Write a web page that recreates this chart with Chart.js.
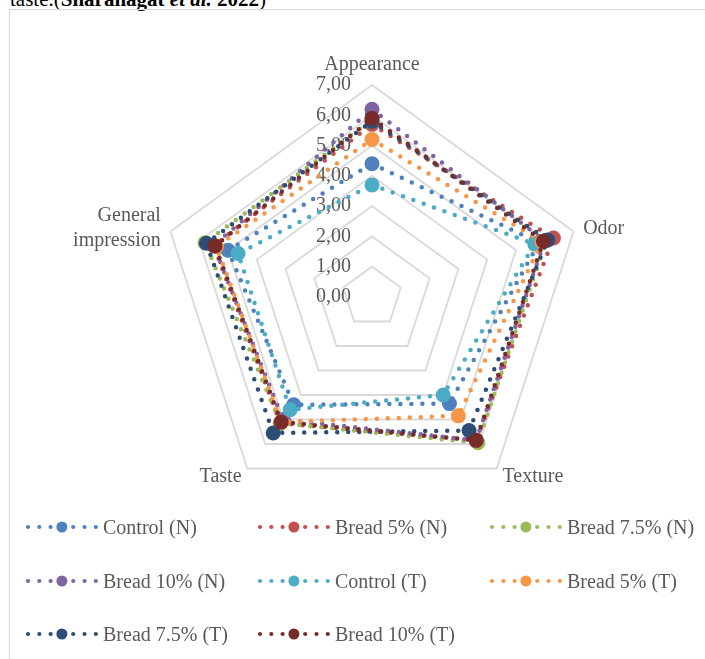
<!DOCTYPE html>
<html lang="en">
<head>
  <meta charset="UTF-8">
  <title>Sensory evaluation radar</title>
  <script src="https://cdn.jsdelivr.net/npm/chart.js"></script>
  <style>
    body {
      margin: 0;
      background: #fff;
      font-family: 'Liberation Serif', 'Times New Roman', serif;
    }
    .page {
      position: relative;
      width: 705px;
      height: 659px;
      overflow: hidden;
    }
    /* caption of the figure, mostly cut off at the top */
    .caption {
      position: absolute;
      left: 10px;
      top: -11px;
      font-size: 21px;
      line-height: 20px;
      color: #000;
      white-space: nowrap;
    }
    .frame {
      position: absolute;
      left: 9px;
      top: 9px;
      width: 800px;
      height: 700px;
      border: 1px solid #d9d9d9;
    }
    #radarChart {
      position: absolute;
      left: 0;
      top: 0;
    }
    .legend-item {
      position: absolute;
      height: 24px;
      display: flex;
      align-items: center;
      font-size: 20px;
      color: #595959;
      white-space: nowrap;
    }
  </style>
</head>
<body>
  <div class="page">
    <div class="caption">taste.(<b>Sharanagat <i>et al.</i> 2022</b>)</div>
    <div class="frame"></div>
    <canvas id="radarChart" width="705" height="659"></canvas>
    <div id="legend"></div>
  </div>

  <script>
// Chart data
const categories = ['Appearance', 'Odor', 'Texture', 'Taste', ['General', 'impression']];
const tickLabels = ['0,00', '1,00', '2,00', '3,00', '4,00', '5,00', '6,00', '7,00'];

const seriesNames = ['Control (N)', 'Bread 5% (N)', 'Bread 7.5% (N)', 'Bread 10% (N)',
                     'Control (T)', 'Bread 5% (T)', 'Bread 7.5% (T)', 'Bread 10% (T)'];
const seriesColors = ['#4F81BD', '#C0504D', '#9BBB59', '#8064A2',
                      '#4BACC6', '#F79646', '#2C4D75', '#772C2A'];

const controlN  = [4.40, 5.80, 4.35, 4.40, 5.00];
const bread5N   = [5.70, 6.30, 5.85, 5.15, 5.50];
const bread75N  = [5.85, 6.05, 5.95, 5.15, 5.80];
const bread10N  = [6.20, 6.00, 5.85, 5.00, 5.50];
const controlT  = [3.70, 5.65, 4.00, 4.60, 4.65];
const bread5T   = [5.20, 5.90, 4.85, 5.10, 5.40];
const bread75T  = [5.80, 6.10, 5.45, 5.55, 5.75];
const bread10T  = [5.90, 5.95, 5.85, 5.10, 5.45];

const seriesValues = [controlN, bread5N, bread75N, bread10N, controlT, bread5T, bread75T, bread10T];

// Later series sit on top, like in the original
const datasets = seriesNames.map((name, i) => ({
  label: name,
  data: seriesValues[i],
  order: seriesNames.length - 1 - i,
  fill: false,
  borderColor: seriesColors[i],
  borderWidth: 4.5,
  borderDash: [0, 11],
  borderCapStyle: 'round',
  pointRadius: 7.5,
  pointHoverRadius: 7.5,
  pointBorderWidth: 0,
  pointBackgroundColor: seriesColors[i]
}));

// Tick labels and category labels drawn next to the axis
const axisText = {
  id: 'axisText',
  beforeDatasetsDraw(chart) {
    const r = chart.scales.r;
    const ctx = chart.ctx;
    ctx.save();
    ctx.fillStyle = '#595959';
    ctx.font = '20px "Liberation Serif"';

    ctx.textAlign = 'right';
    ctx.textBaseline = 'middle';
    r.ticks.forEach((t, i) => {
      const y = r.yCenter - r.getDistanceFromCenterForValue(t.value);
      ctx.fillText(tickLabels[i], r.xCenter - 21, y);
    });

    categories.forEach((lab, i) => {
      const p = r.getPointPosition(i, r.drawingArea + 10);
      const angle = i * 360 / categories.length;
      const lines = Array.isArray(lab) ? lab : [lab];
      if (angle === 0) {
        ctx.textAlign = 'center';
        ctx.textBaseline = 'bottom';
      } else {
        ctx.textAlign = angle < 180 ? 'left' : 'right';
        ctx.textBaseline = 'middle';
      }
      const lh = 25;
      const y0 = angle === 0 ? p.y - (lines.length - 1) * lh : p.y - (lines.length - 1) * lh / 2;
      lines.forEach((line, k) => ctx.fillText(line, p.x, y0 + k * lh));
    });
    ctx.restore();
  }
};

const radarChart = new Chart(document.getElementById('radarChart'), {
  type: 'radar',
  data: { labels: categories, datasets: datasets },
  options: {
    responsive: false,
    animation: false,
    layout: { padding: { left: 160, right: 121, top: 85, bottom: 150 } },
    elements: { line: { tension: 0 } },
    scales: {
      r: {
        min: 0,
        max: 7,
        ticks: { stepSize: 1, display: false },
        grid: { circular: false, color: '#d9d9d9', lineWidth: 1.8 },
        angleLines: { display: false },
        pointLabels: { display: false }
      }
    },
    plugins: {
      legend: { display: false },
      tooltip: { enabled: false }
    }
  },
  plugins: [axisText]
});

// Legend in three columns, with the dotted-line sample
const legendBox = document.getElementById('legend');
const colX = [25, 257, 489];
const rowY = [527, 581, 634];
seriesNames.forEach((name, i) => {
  const item = document.createElement('div');
  item.className = 'legend-item';
  item.style.left = colX[i % 3] + 'px';
  item.style.top = (rowY[Math.floor(i / 3)] - 12) + 'px';

  const sample = document.createElement('canvas');
  sample.width = 78;
  sample.height = 24;
  const c = sample.getContext('2d');
  c.fillStyle = seriesColors[i];
  for (let k = 0; k < 7; k++) {
    c.beginPath();
    c.arc(3 + k * 11.3, 12, k === 3 ? 5.5 : 2.1, 0, Math.PI * 2);
    c.fill();
  }
  item.appendChild(sample);

  const text = document.createElement('span');
  text.textContent = name;
  item.appendChild(text);
  legendBox.appendChild(item);
});
  </script>
</body>
</html>
